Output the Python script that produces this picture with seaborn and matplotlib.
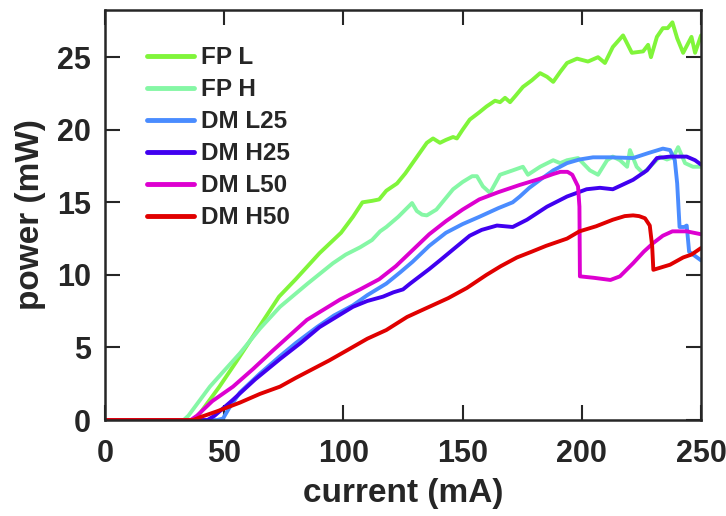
import pandas as pd
import matplotlib
matplotlib.use("Agg")
import matplotlib.pyplot as plt
import seaborn as sns

# current (mA) / power (mW)
fpl_x = [0, 38, 40, 48, 55, 61, 67, 73, 80, 90, 99, 104, 108, 112, 115, 118, 122.5, 126, 129, 132,
         135, 137.6, 140.5, 143, 146, 147.6, 150, 153, 157, 160, 163.6, 165.7, 167.8, 169.9, 172,
         175.3, 179, 182.5, 185.4, 188, 191, 193.8, 198, 202.6, 206.8, 209.7, 213, 217.3, 221,
         225.7, 227.8, 229, 231.5, 234, 236, 238, 240, 242.5, 246, 247.5, 250]
fpl_y = [0, 0, 0.5, 2.3, 4.0, 5.5, 7.0, 8.5, 9.7, 11.5, 12.9, 14.0, 15.0, 15.1, 15.2, 15.8, 16.3, 17.0, 17.7, 18.4,
         19.1, 19.4, 19.1, 19.3, 19.5, 19.4, 20.0, 20.7, 21.2, 21.6, 22.0, 21.9, 22.2, 21.9, 22.3,
         22.95, 23.4, 23.9, 23.65, 23.3, 24.0, 24.6, 24.9, 24.7, 25.0, 24.6, 25.7, 26.5, 25.3,
         25.4, 25.85, 25.0, 26.4, 27.0, 27.0, 27.4, 26.3, 25.3, 26.4, 25.3, 26.5]

fph_x = [0, 33, 35, 44, 50, 56.6, 65, 73.4, 85, 95.6, 101, 107, 112, 115.4, 118, 123, 128.8, 130.8, 133,
         135, 139, 142, 146, 150, 154, 156, 158.5, 161.5, 165.7, 171, 175.3, 177.4, 182.5, 188, 190.9,
         193.8, 198.4, 203.4, 206.8, 210.6, 213, 216, 219, 220.2, 223, 225.7, 228.6, 232.8, 235.7,
         238.3, 240.4, 243.3, 246.6, 250]
fph_y = [0, 0, 0.3, 2.3, 3.4, 4.6, 6.3, 7.8, 9.4, 10.8, 11.4, 11.9, 12.4, 13.0, 13.3, 14.0, 14.95, 14.4, 14.15,
         14.1, 14.5, 15.1, 15.9, 16.4, 16.8, 16.8, 16.1, 15.65, 16.9, 17.2, 17.45, 16.9, 17.45, 17.9, 17.7,
         17.9, 18.05, 17.2, 16.9, 17.9, 18.15, 17.9, 17.45, 18.6, 17.45, 17.0, 17.45, 18.15, 17.95,
         18.1, 18.8, 17.7, 17.45, 17.45]

dml25_x = [0, 47, 49.5, 52, 56.6, 65, 73.4, 80, 88.9, 96, 104, 110, 118, 124, 129, 136, 143, 150, 157,
           165, 171, 174, 178, 182.5, 188, 193.8, 199, 204.7, 212, 221.5, 228, 234, 237, 239, 240, 241,
           243, 244, 245, 250]
dml25_y = [0, 0, 0.1, 0.8, 1.9, 3.2, 4.4, 5.3, 6.4, 7.2, 7.9, 8.6, 9.4, 10.2, 10.9, 12.0, 12.9, 13.5, 14.0,
           14.6, 15.0, 15.4, 16.0, 16.55, 17.2, 17.7, 17.95, 18.1, 18.1, 18.05, 18.4, 18.7, 18.6, 17.9, 16.3, 13.3,
           13.3, 13.4, 11.6, 11.0]

dmh25_x = [0, 43, 46, 53.7, 63, 73.4, 82, 90, 97, 104, 110, 116.6, 121, 125, 128, 132, 136, 140.5, 146,
           153, 158, 164.4, 171, 177, 185.4, 193.8, 202, 207.6, 213, 221.5, 227.3, 231.5, 237, 244,
           247.5, 250]
dmh25_y = [0, 0, 0.3, 1.4, 2.8, 4.2, 5.3, 6.4, 7.1, 7.8, 8.2, 8.5, 8.8, 9.0, 9.4, 9.9, 10.4, 11.0, 11.75,
           12.7, 13.1, 13.4, 13.3, 13.8, 14.7, 15.4, 15.9, 16.0, 15.9, 16.55, 17.2, 18.05, 18.15, 18.15,
           17.9, 17.6]

dml50_x = [0, 36, 38.6, 45, 53.7, 62, 70.5, 84.7, 98.6, 107, 115, 122, 129, 136, 143, 150, 157, 165, 174,
           182, 188, 191, 194, 196, 198.4, 199, 199.2, 205, 212, 216, 221.5, 226, 230, 234, 238, 244, 250]
dml50_y = [0, 0, 0.3, 1.3, 2.3, 3.5, 4.8, 6.9, 8.3, 9.0, 9.7, 10.6, 11.7, 12.8, 13.7, 14.5, 15.2, 15.7, 16.2,
           16.6, 16.95, 17.1, 17.1, 16.9, 16.1, 14.7, 9.9, 9.8, 9.65, 9.9, 10.8, 11.6, 12.2, 12.7, 13.0, 13.0, 12.8]

dmh50_x = [0, 37, 40, 47, 56.6, 65, 73.4, 80, 87, 94, 101.5, 110, 118, 126.7, 132, 136, 144, 151.8, 160,
           166, 172.8, 179, 185, 193.8, 199, 206, 213, 218, 221.5, 224, 226.5, 228.5, 229.5, 230, 233, 237,
           242.5, 246, 250]
dmh50_y = [0, 0, 0.2, 0.6, 1.2, 1.8, 2.3, 2.9, 3.5, 4.1, 4.8, 5.6, 6.2, 7.1, 7.5, 7.8, 8.4, 9.1, 10.0,
           10.6, 11.2, 11.6, 12.0, 12.5, 13.0, 13.35, 13.8, 14.05, 14.1, 14.05, 13.9, 13.4, 12.0, 10.35, 10.5, 10.7,
           11.2, 11.4, 11.85]

labels = ["FP L", "FP H", "DM L25", "DM H25", "DM L50", "DM H50"]
colors = ["#80f53a", "#85f7a5", "#4a8cff", "#4000f0", "#dd00d0", "#e00000"]
series = [(fpl_x, fpl_y), (fph_x, fph_y), (dml25_x, dml25_y),
          (dmh25_x, dmh25_y), (dml50_x, dml50_y), (dmh50_x, dmh50_y)]

frames = []
for name, (xs, ys) in zip(labels, series):
    frames.append(pd.DataFrame({"current": xs, "power": ys, "device": name}))
df = pd.concat(frames, ignore_index=True)

sns.set_theme(style="ticks")
plt.rcParams["font.family"] = ["Liberation Sans", "DejaVu Sans"]
plt.rcParams["font.weight"] = "bold"

fig = plt.figure(figsize=(7.26, 5.16), dpi=100)
ax = fig.add_axes([0.1446, 0.186, 0.821, 0.7946])

sns.lineplot(data=df, x="current", y="power", hue="device", hue_order=labels,
             palette=colors, estimator=None, sort=False, linewidth=2.8, ax=ax)

ax.set_xlim(0, 250)
ax.set_ylim(0, 28.25)
ax.set_xticks([0, 50, 100, 150, 200, 250])
ax.set_yticks([0, 5, 10, 15, 20, 25])
ax.tick_params(direction="in", length=11, width=1.5, color="#262626",
               top=True, right=True, labelsize=22)
ax.tick_params(axis="x", pad=14)
ax.tick_params(axis="y", pad=10)
for lab in ax.get_xticklabels() + ax.get_yticklabels():
    lab.set_fontweight("bold")
for sp in ax.spines.values():
    sp.set_visible(True)
    sp.set_linewidth(1.8)
    sp.set_color("#262626")

ax.set_xlabel("current (mA)", fontsize=24, fontweight="bold", labelpad=6)
ax.set_ylabel("power (mW)", fontsize=24, fontweight="bold", labelpad=8)

leg = ax.legend(loc="upper left", bbox_to_anchor=(0.055, 0.935), frameon=False,
                fontsize=17.5, handlelength=1.9, handletextpad=0.3, labelspacing=0.37,
                borderaxespad=0)
for t in leg.get_texts():
    t.set_fontweight("bold")
for h in leg.get_lines():
    h.set_linewidth(3.5)

fig.savefig("out.png", dpi=100)
